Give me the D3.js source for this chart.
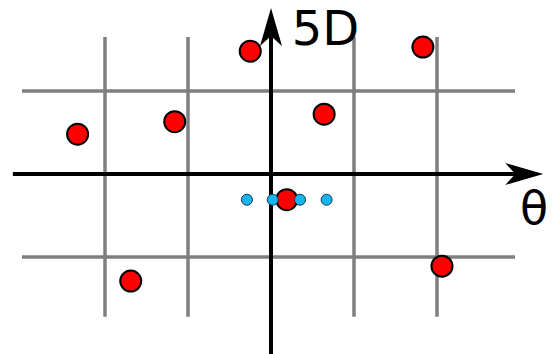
<!DOCTYPE html>
<html>
<head>
<meta charset="utf-8">
<script src="https://cdn.jsdelivr.net/npm/d3@7"></script>
<style>
  body { margin: 0; background: #fff; }
  svg { display: block; }
</style>
</head>
<body>
<div id="chart"></div>
<script>
// grid positions (in grid units)
var gridX = [-2, -1, 1, 2];
var gridY = [-1, 1];

// red points (theta, 5D)
var redX = [-2.33, -1.16, -0.25, 0.64, 1.83, -1.69, 2.06, 0.19];
var redY = [0.48, 0.63, 1.48, 0.72, 1.53, -1.29, -1.11, -0.31];

// small blue points
var blueX = [-0.29, 0.02, 0.35, 0.67];
var blueY = [-0.31, -0.31, -0.31, -0.31];

var axisLabels = ["θ", "5D"];

var width = 554, height = 354;
var svg = d3.select("#chart").append("svg")
  .attr("width", width)
  .attr("height", height);

var x = d3.scaleLinear().domain([-3, 3]).range([22, 520]);
var y = d3.scaleLinear().domain([-2, 2]).range([340, 8]);

// grid
svg.selectAll("line.gx").data(gridX).enter().append("line")
  .attr("class", "gx")
  .attr("x1", function(d) { return x(d); })
  .attr("x2", function(d) { return x(d); })
  .attr("y1", y(1.65))
  .attr("y2", y(-1.72))
  .attr("stroke", "#7f7f7f")
  .attr("stroke-width", 3.5);

svg.selectAll("line.gy").data(gridY).enter().append("line")
  .attr("class", "gy")
  .attr("y1", function(d) { return y(d); })
  .attr("y2", function(d) { return y(d); })
  .attr("x1", x(-3))
  .attr("x2", x(2.94))
  .attr("stroke", "#7f7f7f")
  .attr("stroke-width", 3.5);

// axes with notched arrow heads
var head = "M0,0 L-38,-11 L-28,0 L-38,11 Z";

svg.append("line")
  .attr("x1", x(-3.11)).attr("x2", x(3.28) - 20)
  .attr("y1", y(0)).attr("y2", y(0))
  .attr("stroke", "#000").attr("stroke-width", 4);
svg.append("path")
  .attr("d", head)
  .attr("transform", "translate(" + x(3.28) + "," + y(0) + ")")
  .attr("fill", "#000");

svg.append("line")
  .attr("x1", x(0)).attr("x2", x(0))
  .attr("y1", y(-2.2)).attr("y2", y(2.0) + 20)
  .attr("stroke", "#000").attr("stroke-width", 4);
svg.append("path")
  .attr("d", head)
  .attr("transform", "translate(" + x(0) + "," + y(2.0) + ") rotate(-90)")
  .attr("fill", "#000");

// labels
svg.append("text")
  .attr("x", x(3.0))
  .attr("y", y(-0.6))
  .attr("font-family", "DejaVu Sans")
  .attr("font-size", 46)
  .text(axisLabels[0]);

svg.append("text")
  .attr("x", x(0.25))
  .attr("y", y(1.55))
  .attr("font-family", "DejaVu Sans")
  .attr("font-size", 48)
  .text(axisLabels[1]);

// points
var red = redX.map(function(d, i) { return [d, redY[i]]; });
var blue = blueX.map(function(d, i) { return [d, blueY[i]]; });

svg.selectAll("circle.red").data(red).enter().append("circle")
  .attr("class", "red")
  .attr("cx", function(d) { return x(d[0]); })
  .attr("cy", function(d) { return y(d[1]); })
  .attr("r", 10.5)
  .attr("fill", "#ff0000")
  .attr("stroke", "#000")
  .attr("stroke-width", 2);

svg.selectAll("circle.blue").data(blue).enter().append("circle")
  .attr("class", "blue")
  .attr("cx", function(d) { return x(d[0]); })
  .attr("cy", function(d) { return y(d[1]); })
  .attr("r", 5.5)
  .attr("fill", "#17b5f0")
  .attr("stroke", "#0a3a50")
  .attr("stroke-width", 1);
</script>
</body>
</html>
